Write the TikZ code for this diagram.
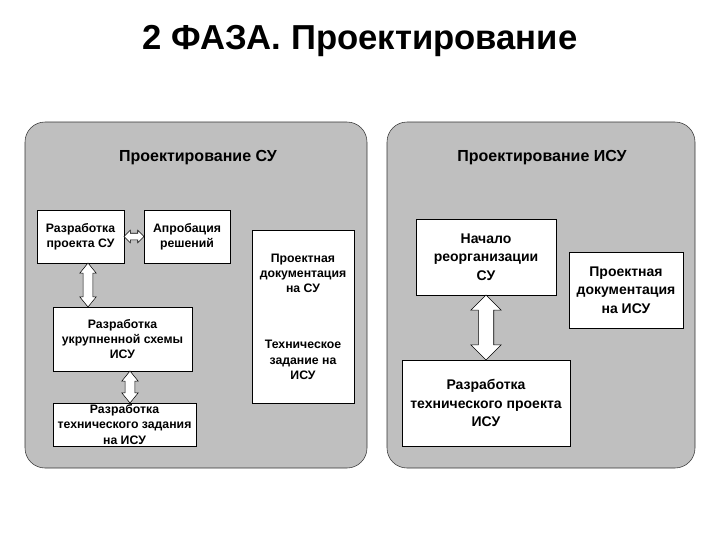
\documentclass[tikz,border=0pt]{standalone}
\usepackage{fontspec}
\setmainfont{Liberation Sans}
\usetikzlibrary{shapes.arrows}

\begin{document}
\begin{tikzpicture}[x=0.75pt, y=-0.75pt,
    panel/.style = {draw=black!80, fill=black!25, rounded corners=15pt},
    box/.style = {draw, fill=white, align=center, inner sep=1pt},
    lbox/.style = {box, font=\bfseries\fontsize{9.2}{11.4}\selectfont},
    rbox/.style = {box, font=\bfseries\fontsize{10.5}{14}\selectfont},
    dbl/.style = {double arrow, draw, fill=white, inner xsep=0pt, double arrow tip angle=90}]
    \useasboundingbox (0,0) rectangle (720,540);

    \node (title) at (360,41) {\bfseries\fontsize{26}{30}\selectfont 2 ФАЗА. Проектирование};

    % left panel
    \draw [panel] (25,122) rectangle (367,468);
    \node (su) at (198,158) {\bfseries\fontsize{12}{14}\selectfont Проектирование СУ};
    \node[lbox, minimum width=65pt, minimum height=40pt] (1) at (80.5,236.5) {Разработка\\проекта СУ};
    \node[lbox, minimum width=64.5pt, minimum height=40pt] (2) at (187,236.5) {Апробация\\решений};
    \node[lbox, minimum width=76.5pt, minimum height=130pt] (3) at (303,316.5)
        {Проектная\\документация\\на СУ\\[31pt]Техническое\\задание на\\ИСУ};
    \node[lbox, minimum width=104pt, minimum height=48pt] (4) at (122.5,339) {Разработка\\укрупненной схемы\\ИСУ};
    \node[lbox, minimum width=107pt, minimum height=32pt] (5) at (124.5,424.5) {Разработка\\технического задания\\на ИСУ};

    \node[dbl, minimum height=15pt, inner ysep=2.25pt, double arrow head extend=2.25pt] (12) at (134,236.5) {};
    \node[dbl, rotate=90, minimum height=33pt, inner ysep=3.4pt, double arrow head extend=2.6pt,
        double arrow tip angle=78] (14) at (88,285) {};
    \node[dbl, rotate=90, minimum height=24pt, inner ysep=3.4pt, double arrow head extend=2.6pt,
        double arrow tip angle=78] (45) at (130,387) {};

    % right panel
    \draw [panel] (387,122) rectangle (695,468);
    \node (isu) at (542,158) {\bfseries\fontsize{12}{14}\selectfont Проектирование ИСУ};
    \node[rbox, minimum width=105pt, minimum height=57pt] (6) at (486,257) {Начало\\реорганизации\\СУ};
    \node[rbox, minimum width=85.5pt, minimum height=57pt] (7) at (626,290) {Проектная\\документация\\на ИСУ};
    \node[rbox, minimum width=126pt, minimum height=64.5pt] (8) at (486,403) {Разработка\\технического проекта\\ИСУ};

    \node[dbl, rotate=90, minimum height=48.75pt, inner ysep=5.6pt, double arrow head extend=5.6pt] (68) at (486,327.5) {};
\end{tikzpicture}
\end{document}
